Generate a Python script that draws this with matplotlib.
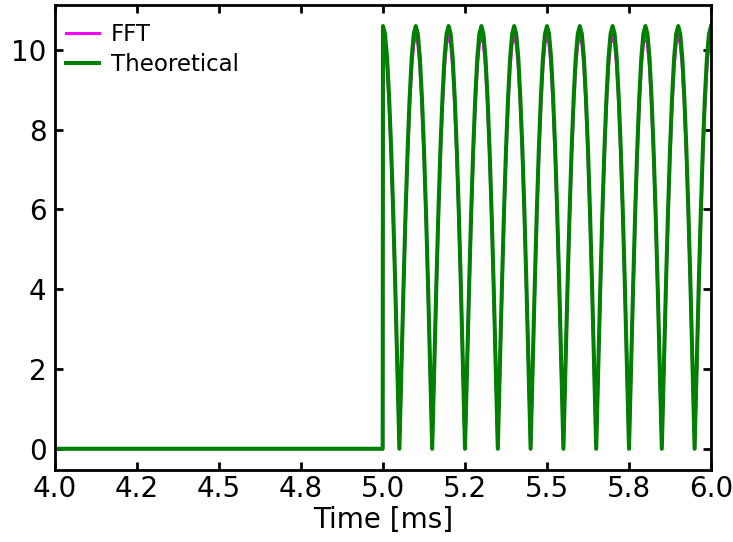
import numpy as np
import matplotlib
matplotlib.use("Agg")
import matplotlib.pyplot as plt
from matplotlib.ticker import MultipleLocator, FormatStrFormatter

# flat part before the pulse train (ms, value)
t_flat = [4.0, 4.999]
v_flat = [0.0, 0.0]

# one period (0.1 ms), 16 samples per period
period = 0.1
theory_period = [10.6, 10.4, 9.8, 8.8, 7.5, 5.9, 4.06, 2.07, 0.0,
                 2.07, 4.06, 5.9, 7.5, 8.8, 9.8, 10.4]
fft_period = [10.35, 10.15, 9.57, 8.6, 7.32, 5.76, 3.96, 2.02, 0.0,
              2.02, 3.96, 5.76, 7.32, 8.6, 9.57, 10.15]
n_periods = 10
t_start = 5.0

t_osc = t_start + np.arange(n_periods * len(theory_period) + 1) * period / len(theory_period)
theory_osc = list(np.tile(theory_period, n_periods)) + [theory_period[0]]
fft_osc = list(np.tile(fft_period, n_periods)) + [fft_period[0]]

t = np.concatenate([t_flat, t_osc])
theory = np.concatenate([v_flat, theory_osc])
fft = np.concatenate([v_flat, fft_osc])

fig = plt.figure(figsize=(7.33, 5.42), dpi=100)
ax = fig.add_axes([0.075, 0.133, 0.895, 0.858])

ax.plot(t, fft, color="#ff00ff", lw=2.2, label="FFT")
ax.plot(t, theory, color="green", lw=2.9, label="Theoretical")

ax.set_xlim(4.0, 6.0)
ax.xaxis.set_major_locator(MultipleLocator(0.25))
ax.xaxis.set_major_formatter(FormatStrFormatter("%.1f"))
ax.set_yticks([0, 2, 4, 6, 8, 10])
ax.set_xlabel("Time [ms]", fontsize=20, labelpad=2)

ax.tick_params(direction="in", top=True, right=True, length=6, width=2,
               labelsize=20)
ax.tick_params(axis="y", pad=6)
ax.tick_params(axis="x", pad=4)
for s in ax.spines.values():
    s.set_linewidth(2)

ax.legend(loc="upper left", bbox_to_anchor=(-0.011, 1.0), frameon=False,
          fontsize=16.5, handlelength=1.45, borderaxespad=0.5, borderpad=0.3,
          handletextpad=0.5, labelspacing=0.28)

fig.savefig("out.png", dpi=100)
